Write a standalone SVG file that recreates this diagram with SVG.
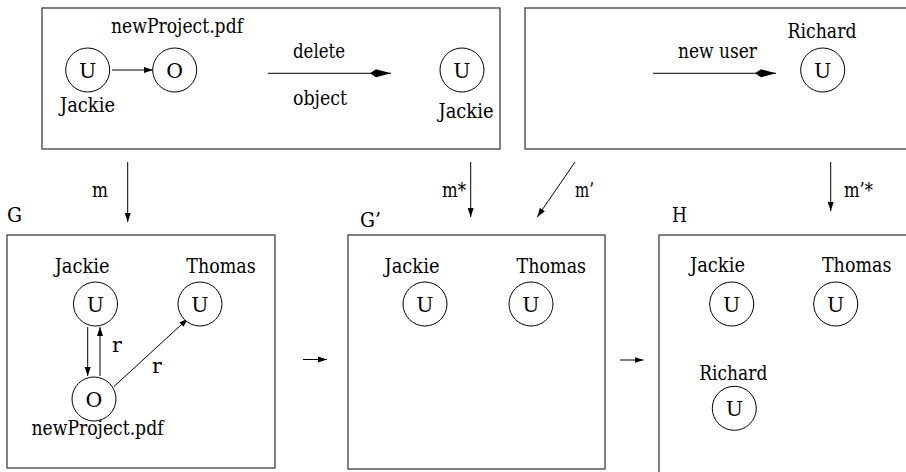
<svg xmlns="http://www.w3.org/2000/svg" width="906" height="472" viewBox="0 0 906 472">
<style>
text{font-family:'DejaVu Serif','Liberation Serif',serif;font-size:20.5px;fill:#000}
.c{text-anchor:middle}
.box{fill:none;stroke:#404040;stroke-width:1.3}
.n{fill:#fff;stroke:#000;stroke-width:1}
.e{fill:none;stroke:#000;stroke-width:1}
</style>
<defs>
<marker id="ah" markerWidth="10" markerHeight="8" refX="9" refY="4" orient="auto" markerUnits="userSpaceOnUse"><path d="M0,1 L9,4 L0,7 z" fill="#000"/></marker>
<marker id="dm" markerWidth="22" markerHeight="10" refX="21" refY="5" orient="auto" markerUnits="userSpaceOnUse"><path d="M0,5 L6,1 L21,5 L6,9 z" fill="#000"/></marker>
</defs>

<g id="panels">
<rect class="box" x="42" y="8" width="458" height="141"/>
<rect class="box" x="525" y="8" width="400" height="141"/>
<rect class="box" x="7" y="235" width="268" height="233"/>
<rect class="box" x="348" y="235" width="257" height="234"/>
<rect class="box" x="659" y="235" width="270" height="250"/>
</g>

<g id="labels">
<text x="7" y="222" textLength="15" lengthAdjust="spacingAndGlyphs">G</text>
<text x="360" y="227" textLength="21" lengthAdjust="spacingAndGlyphs">G’</text>
<text x="672" y="222" textLength="15" lengthAdjust="spacingAndGlyphs">H</text>
<text class="c" x="319" y="58" textLength="52" lengthAdjust="spacingAndGlyphs">delete</text>
<text class="c" x="320" y="105" textLength="54" lengthAdjust="spacingAndGlyphs">object</text>
<text class="c" x="717.5" y="58" textLength="79" lengthAdjust="spacingAndGlyphs">new user</text>
</g>

<g id="connectors">
<line class="e" x1="112" y1="70" x2="153" y2="70" marker-end="url(#ah)"/>
<line class="e" x1="268" y1="73.3" x2="391" y2="73.3" marker-end="url(#dm)"/>
<line class="e" x1="653" y1="73.3" x2="776" y2="73.3" marker-end="url(#dm)"/>
<line class="e" x1="127.7" y1="162" x2="127.7" y2="222" marker-end="url(#ah)"/>
<line class="e" x1="470.7" y1="162" x2="470.7" y2="217" marker-end="url(#ah)"/>
<line class="e" x1="575" y1="162" x2="537.3" y2="217" marker-end="url(#ah)"/>
<line class="e" x1="830.7" y1="162" x2="830.7" y2="211" marker-end="url(#ah)"/>
<line class="e" x1="87.7" y1="327" x2="87.7" y2="376" marker-end="url(#ah)"/>
<line class="e" x1="100" y1="376" x2="100" y2="327" marker-end="url(#ah)"/>
<line class="e" x1="114" y1="386.5" x2="188" y2="318.5" marker-end="url(#ah)"/>
<line class="e" x1="303" y1="359.5" x2="327" y2="359.5" marker-end="url(#ah)"/>
<line class="e" x1="620" y1="360" x2="643.5" y2="360" marker-end="url(#ah)"/>
<text x="92" y="197" textLength="16" lengthAdjust="spacingAndGlyphs">m</text>
<text x="442" y="197" textLength="24" lengthAdjust="spacingAndGlyphs">m*</text>
<text x="575" y="197" textLength="19" lengthAdjust="spacingAndGlyphs">m’</text>
<text x="844" y="197" textLength="29" lengthAdjust="spacingAndGlyphs">m’*</text>
<text x="112" y="352">r</text>
<text x="152" y="373">r</text>
</g>

<g id="top-jackie">
<circle class="n" cx="87.7" cy="70" r="22"/>
<text class="c" x="87.7" y="77.5">U</text>
<text class="c" x="87.5" y="112" textLength="55" lengthAdjust="spacingAndGlyphs">Jackie</text>
</g>
<g id="top-file">
<circle class="n" cx="174.7" cy="70" r="22"/>
<text class="c" x="174.7" y="77.5">O</text>
<text class="c" x="177" y="33" textLength="132" lengthAdjust="spacingAndGlyphs">newProject.pdf</text>
</g>
<g id="top-jackie-after">
<circle class="n" cx="462" cy="70" r="22"/>
<text class="c" x="462" y="77.5">U</text>
<text class="c" x="466" y="118" textLength="55" lengthAdjust="spacingAndGlyphs">Jackie</text>
</g>
<g id="top-richard">
<circle class="n" cx="822.7" cy="70" r="22"/>
<text class="c" x="822.7" y="77.5">U</text>
<text class="c" x="822" y="38" textLength="69" lengthAdjust="spacingAndGlyphs">Richard</text>
</g>

<g id="g-jackie">
<circle class="n" cx="95.5" cy="304" r="22"/>
<text class="c" x="95.5" y="311.5">U</text>
<text class="c" x="82.2" y="273" textLength="55" lengthAdjust="spacingAndGlyphs">Jackie</text>
</g>
<g id="g-thomas">
<circle class="n" cx="200" cy="304" r="22"/>
<text class="c" x="200" y="311.5">U</text>
<text class="c" x="221" y="273" textLength="69.5" lengthAdjust="spacingAndGlyphs">Thomas</text>
</g>
<g id="g-file">
<circle class="n" cx="94" cy="399" r="22"/>
<text class="c" x="94" y="406.5">O</text>
<text class="c" x="97.5" y="435" textLength="132" lengthAdjust="spacingAndGlyphs">newProject.pdf</text>
</g>

<g id="gp-jackie">
<circle class="n" cx="425" cy="304" r="22"/>
<text class="c" x="425" y="311.5">U</text>
<text class="c" x="412" y="273" textLength="55" lengthAdjust="spacingAndGlyphs">Jackie</text>
</g>
<g id="gp-thomas">
<circle class="n" cx="531" cy="304" r="22"/>
<text class="c" x="531" y="311.5">U</text>
<text class="c" x="551.3" y="273" textLength="69.5" lengthAdjust="spacingAndGlyphs">Thomas</text>
</g>

<g id="h-jackie">
<circle class="n" cx="731.7" cy="304" r="22"/>
<text class="c" x="731.7" y="311.5">U</text>
<text class="c" x="717.5" y="272" textLength="55" lengthAdjust="spacingAndGlyphs">Jackie</text>
</g>
<g id="h-thomas">
<circle class="n" cx="835.7" cy="304" r="22"/>
<text class="c" x="835.7" y="311.5">U</text>
<text class="c" x="856.7" y="272" textLength="69.5" lengthAdjust="spacingAndGlyphs">Thomas</text>
</g>
<g id="h-richard">
<circle class="n" cx="734.3" cy="408.3" r="22"/>
<text class="c" x="734.3" y="415.8">U</text>
<text class="c" x="733.3" y="380" textLength="68" lengthAdjust="spacingAndGlyphs">Richard</text>
</g>
</svg>
